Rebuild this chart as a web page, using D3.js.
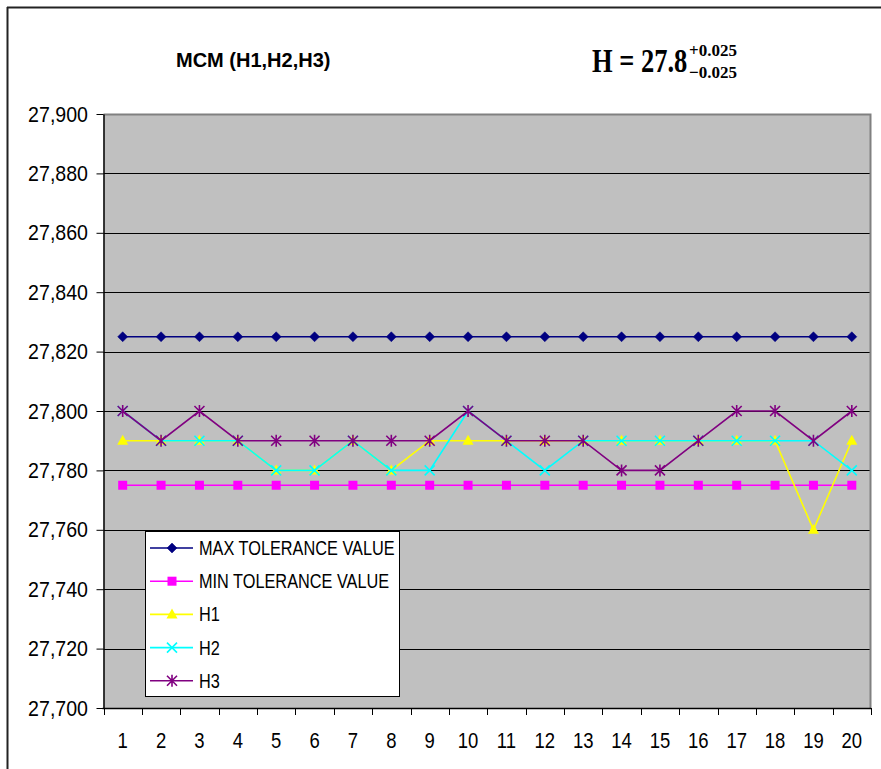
<!DOCTYPE html>
<html>
<head>
<meta charset="utf-8">
<script src="https://cdn.jsdelivr.net/npm/d3@7"></script>
<style>
  html, body { margin: 0; padding: 0; background: #fff; }
  svg { display: block; }
</style>
</head>
<body>
<svg id="chart" width="881" height="769"></svg>
<script>
// ---- data ----
const categories = [1,2,3,4,5,6,7,8,9,10,11,12,13,14,15,16,17,18,19,20];
const maxTol = [27.825,27.825,27.825,27.825,27.825,27.825,27.825,27.825,27.825,27.825,27.825,27.825,27.825,27.825,27.825,27.825,27.825,27.825,27.825,27.825];
const minTol = [27.775,27.775,27.775,27.775,27.775,27.775,27.775,27.775,27.775,27.775,27.775,27.775,27.775,27.775,27.775,27.775,27.775,27.775,27.775,27.775];
const h1 = [27.79,27.79,27.79,27.79,27.78,27.78,27.79,27.78,27.79,27.79,27.79,27.79,27.79,27.79,27.79,27.79,27.79,27.79,27.76,27.79];
const h2 = [27.80,27.79,27.79,27.79,27.78,27.78,27.79,27.78,27.78,27.80,27.79,27.78,27.79,27.79,27.79,27.79,27.79,27.79,27.79,27.78];
const h3 = [27.80,27.79,27.80,27.79,27.79,27.79,27.79,27.79,27.79,27.80,27.79,27.79,27.79,27.78,27.78,27.79,27.80,27.80,27.79,27.80];
const seriesNames = ["MAX TOLERANCE VALUE","MIN TOLERANCE VALUE","H1","H2","H3"];
const yTickValues = [27.70,27.72,27.74,27.76,27.78,27.80,27.82,27.84,27.86,27.88,27.90];
const yTickLabels = ["27,700","27,720","27,740","27,760","27,780","27,800","27,820","27,840","27,860","27,880","27,900"];
const chartTitle = "MCM (H1,H2,H3)";

const seriesStyle = [
  {color:"#000080", marker:"diamond"},
  {color:"#FF00FF", marker:"square"},
  {color:"#FFFF00", marker:"triangle"},
  {color:"#00FFFF", marker:"x"},
  {color:"#800080", marker:"star"}
];
const seriesData = [maxTol, minTol, h1, h2, h3];

// ---- layout ----
const svg = d3.select("#chart");
const plot = {left:103.5, right:871, top:114, bottom:708};

const x = d3.scaleBand().domain(categories).range([plot.left, plot.right]).paddingInner(0).paddingOuter(0);
const xc = d => x(d) + x.bandwidth()/2;
const y = d3.scaleLinear().domain([27.70, 27.90]).range([plot.bottom, plot.top]);

// outer chart frame (left + top visible)
svg.append("line").attr("x1",7.5).attr("x2",7.5).attr("y1",7).attr("y2",769).attr("stroke","#222").attr("stroke-width",2);
svg.append("line").attr("x1",7).attr("x2",881).attr("y1",7.5).attr("y2",7.5).attr("stroke","#222").attr("stroke-width",2);

// plot background
svg.append("rect").attr("x",plot.left).attr("y",plot.top)
  .attr("width",plot.right-plot.left).attr("height",plot.bottom-plot.top)
  .attr("fill","#C0C0C0");

// gridlines
svg.append("g").selectAll("line").data(yTickValues.slice(1, -1)).join("line")
  .attr("x1",plot.left).attr("x2",plot.right)
  .attr("y1",d=>Math.round(y(d))+0.5).attr("y2",d=>Math.round(y(d))+0.5)
  .attr("stroke","#000").attr("stroke-width",1);

// plot border top/right (gray)
svg.append("path")
  .attr("d",`M${plot.left},${plot.top+0.5}H${plot.right-0.5}V${plot.bottom}`)
  .attr("fill","none").attr("stroke","#808080").attr("stroke-width",2);

// y axis
const yAxis = d3.axisLeft(y).tickValues(yTickValues)
  .tickFormat((d,i)=>yTickLabels[i]).tickSize(7).tickSizeOuter(0);
const gy = svg.append("g").attr("transform",`translate(${plot.left},0)`).call(yAxis);
gy.select(".domain").attr("stroke","#000").attr("stroke-width",1.5);
gy.selectAll(".tick line").attr("stroke","#000");
gy.selectAll(".tick text").remove();
svg.append("g").selectAll("text").data(yTickValues).join("text")
  .attr("transform",d=>`translate(88,${y(d)+7.5}) scale(1,1.12)`)
  .attr("text-anchor","end")
  .attr("font-family","Liberation Sans, Arial, sans-serif")
  .attr("font-size",19.6).attr("fill","#000")
  .text((d,i)=>yTickLabels[i]);

// x axis: ticks at category boundaries
const gx = svg.append("g");
gx.append("line").attr("x1",plot.left-1).attr("x2",plot.right).attr("y1",plot.bottom+0.5).attr("y2",plot.bottom+0.5)
  .attr("stroke","#000").attr("stroke-width",1.5);
const boundaries = categories.map(c=>x(c)).concat([x(categories[categories.length-1])+x.bandwidth()]);
gx.selectAll("line.tk").data(boundaries).join("line").attr("class","tk")
  .attr("x1",d=>Math.round(d)+0.5).attr("x2",d=>Math.round(d)+0.5)
  .attr("y1",plot.bottom).attr("y2",plot.bottom+7).attr("stroke","#000");
gx.selectAll("text").data(categories).join("text")
  .attr("transform",d=>`translate(${xc(d)},748) scale(1,1.18)`)
  .attr("text-anchor","middle")
  .attr("font-family","Liberation Sans, Arial, sans-serif")
  .attr("font-size",18.5).attr("fill","#000")
  .text(d=>d);

// markers
function drawMarker(g, type, color, cx, cy) {
  if (type === "diamond") {
    g.append("path").attr("d",`M${cx},${cy-5}L${cx+5},${cy}L${cx},${cy+5}L${cx-5},${cy}Z`).attr("fill",color).attr("stroke",color).attr("stroke-width",0.5);
  } else if (type === "square") {
    g.append("rect").attr("x",cx-4.5).attr("y",cy-4.5).attr("width",9).attr("height",9).attr("fill",color);
  } else if (type === "triangle") {
    g.append("path").attr("d",`M${cx},${cy-6}L${cx+5.5},${cy+4}L${cx-5.5},${cy+4}Z`).attr("fill",color);
  } else if (type === "x") {
    g.append("path").attr("d",`M${cx-5},${cy-5}L${cx+5},${cy+5}M${cx+5},${cy-5}L${cx-5},${cy+5}`).attr("stroke",color).attr("stroke-width",1.6).attr("fill","none");
  } else if (type === "star") {
    g.append("path").attr("d",`M${cx-5},${cy-5}L${cx+5},${cy+5}M${cx+5},${cy-5}L${cx-5},${cy+5}M${cx},${cy-6}L${cx},${cy+6}`).attr("stroke",color).attr("stroke-width",1.6).attr("fill","none");
  }
}

const line = d3.line().x((d,i)=>xc(categories[i])).y(d=>y(d));
seriesData.forEach((vals, si) => {
  const st = seriesStyle[si];
  const g = svg.append("g");
  g.append("path").datum(vals).attr("d",line).attr("fill","none")
    .attr("stroke",st.color).attr("stroke-width",1.6);
  vals.forEach((v,i)=>drawMarker(g, st.marker, st.color, xc(categories[i]), y(v)));
});

// legend
const lg = svg.append("g");
lg.append("rect").attr("x",145.5).attr("y",531.5).attr("width",254).attr("height",165)
  .attr("fill","#fff").attr("stroke","#000").attr("stroke-width",1);
seriesNames.forEach((name, i) => {
  const cy = 548 + i*33.2;
  const st = seriesStyle[i];
  lg.append("line").attr("x1",150).attr("x2",193).attr("y1",cy).attr("y2",cy)
    .attr("stroke",st.color).attr("stroke-width",1.6);
  drawMarker(lg, st.marker, st.color, 172, cy);
  lg.append("text").attr("transform",`translate(199,${cy+7}) scale(1,1.2)`)
    .attr("font-family","Liberation Sans, Arial, sans-serif")
    .attr("font-size",16.3).attr("fill","#000").text(name);
});

// titles
svg.append("text").attr("x",176).attr("y",67)
  .attr("font-family","Liberation Sans, Arial, sans-serif")
  .attr("font-weight","bold").attr("font-size",20).attr("fill","#000")
  .text(chartTitle);

const ft = svg.append("g").attr("font-family","Liberation Serif, Times New Roman, serif").attr("font-weight","bold").attr("fill","#000");
ft.append("text").attr("transform","translate(592,72) scale(1,1.3)").attr("font-size",26.5)
  .text("H = 27.8");
ft.append("text").attr("transform","translate(689,56)").attr("font-size",17)
  .text("+0.025");
ft.append("text").attr("transform","translate(689,78)").attr("font-size",17)
  .text("\u22120.025");
</script>
</body>
</html>
